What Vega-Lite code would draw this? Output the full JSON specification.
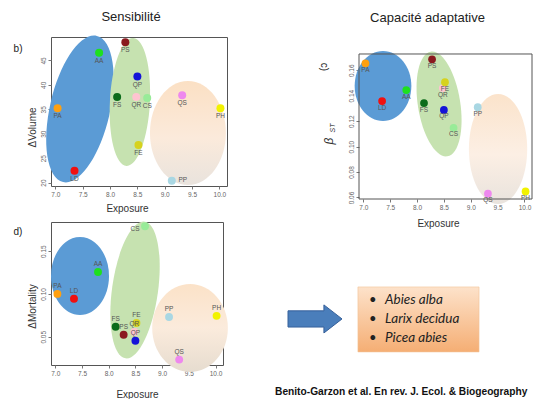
{
  "$schema": "https://vega.github.io/schema/vega-lite/v6.json",
  "background": "white",
  "padding": {"left": 13, "top": 10, "right": 0, "bottom": 0},
  "datasets": {
    "species": [
      {"sp": "AA", "exposure": 7.80, "volume": 46.6, "pst": 0.1444, "mortality": 0.1256},
      {"sp": "LD", "exposure": 7.35, "volume": 22.4, "pst": 0.1358, "mortality": 0.0944},
      {"sp": "PA", "exposure": 7.04, "volume": 35.2, "pst": 0.1655, "mortality": 0.100},
      {"sp": "PS", "exposure": 8.28, "volume": 48.7, "pst": 0.1686, "mortality": 0.0523},
      {"sp": "QR", "exposure": 8.48, "volume": 37.5, "pst": 0.146, "mortality": 0.0555},
      {"sp": "QP", "exposure": 8.50, "volume": 41.7, "pst": 0.1288, "mortality": 0.0453},
      {"sp": "FS", "exposure": 8.13, "volume": 37.5, "pst": 0.1342, "mortality": 0.0616},
      {"sp": "CS", "exposure": 8.68, "volume": 37.3, "pst": 0.1147, "mortality": 0.179},
      {"sp": "QS", "exposure": 9.32, "volume": 37.9, "pst": 0.063, "mortality": 0.0233},
      {"sp": "PH", "exposure": 10.02, "volume": 35.2, "pst": 0.0647, "mortality": 0.0744},
      {"sp": "FE", "exposure": 8.52, "volume": 27.7, "pst": 0.1506, "mortality": 0.066},
      {"sp": "PP", "exposure": 9.13, "volume": 20.4, "pst": 0.131, "mortality": 0.073}
    ]
  },
  "config": {
    "font": "Liberation Sans",
    "view": {"stroke": "#555", "strokeWidth": 1},
    "axis": {"domain": false, "grid": false, "tickColor": "#777", "tickSize": 3, "tickCount": 20, "labelFontSize": 6.5, "labelColor": "#666", "labelPadding": 2, "labelOverlap": false, "titleFontSize": 10, "titleFontWeight": "normal", "titleColor": "#333", "titlePadding": 3},
    "title": {"fontSize": 13, "fontWeight": "normal", "color": "#222", "font": "Liberation Sans"},
    "text": {"font": "Liberation Sans"}
  },
  "spacing": 46,
  "hconcat": [
    {
      "spacing": 7,
      "vconcat": [
        {
          "width": 176,
          "height": 149,
          "title": {"text": "Sensibilité", "offset": 12, "frame": "group", "dx": -8},
          "layer": [
            {"data": {"values": [{}]}, "mark": {"type": "point", "filled": true, "opacity": 1, "fill": "#5b9bd5", "strokeWidth": 0, "angle": 13, "size": 22500, "shape": "M 0.4 0 C 0.4 0.5523 0.2209 1 0 1 C -0.2209 1 -0.4 0.5523 -0.4 0 C -0.4 -0.5523 -0.2209 -1 0 -1 C 0.2209 -1 0.4 -0.5523 0.4 0 Z"},
             "encoding": {"x": {"datum": 7.45}, "y": {"datum": 35.06}}},
            {"data": {"values": [{}]}, "mark": {"type": "point", "filled": true, "opacity": 1, "fill": "#c6e2b0", "strokeWidth": 0, "angle": 3, "size": 16384, "shape": "M 0.3125 0 C 0.3125 0.5523 0.1726 1 0 1 C -0.1726 1 -0.3125 0.5523 -0.3125 0 C -0.3125 -0.5523 -0.1726 -1 0 -1 C 0.1726 -1 0.3125 -0.5523 0.3125 0 Z"},
             "encoding": {"x": {"datum": 8.364}, "y": {"datum": 36.5}}},
            {"data": {"values": [{}]}, "mark": {"type": "point", "filled": true, "opacity": 1, "strokeWidth": 0, "size": 10816, "shape": "M 0.73 0 C 0.73 0.5523 0.4032 1 0 1 C -0.4032 1 -0.73 0.5523 -0.73 0 C -0.73 -0.5523 -0.4032 -1 0 -1 C 0.4032 -1 0.73 -0.5523 0.73 0 Z",
               "fill": {"gradient": "linear", "x1": 0, "y1": 0, "x2": 0, "y2": 1, "stops": [{"offset": 0, "color": "#fbe0c4"}, {"offset": 0.55, "color": "#fbeadb"}, {"offset": 1, "color": "#e9e3dd"}]}},
             "encoding": {"x": {"datum": 9.425}, "y": {"datum": 30.15}}},
            {"data": {"name": "species"}, "mark": {"type": "circle", "size": 64, "opacity": 1},
             "encoding": {
               "x": {"field": "exposure", "type": "quantitative", "scale": {"domain": [6.92, 10.14], "nice": false, "zero": false}, "axis": {"title": "Exposure", "values": [7, 7.5, 8, 8.5, 9, 9.5, 10], "tickCount": 20, "format": ".1f", "labelOverlap": false, "titleX": 76, "titleAlign": "center", "titlePadding": 6}},
               "y": {"field": "volume", "type": "quantitative", "scale": {"domain": [19.3, 49.8], "nice": false, "zero": false}, "axis": {"title": "ΔVolume", "values": [20, 25, 30, 35, 40, 45], "tickCount": 20, "labelAngle": -90, "labelOverlap": false, "titleY": 90, "titleAlign": "center"}},
               "color": {"field": "sp", "type": "nominal", "legend": null, "scale": {"domain": ["AA", "LD", "PA", "PS", "QP", "FS", "QR", "CS", "QS", "PH", "FE", "PP"], "range": ["#1ee01e", "#f01010", "#ffa010", "#8a1a1f", "#1414d8", "#0b6b1a", "#ffc4d0", "#98eb98", "#ee88ee", "#f2f200", "#d6d21e", "#a9d7e3"]}}
             }},
            {"data": {"name": "species"}, "transform": [{"filter": "datum.sp !== 'PP'"}], "mark": {"type": "text", "fontSize": 6.5, "color": "#555", "dy": 8, "baseline": "middle"},
             "encoding": {"x": {"field": "exposure", "type": "quantitative"}, "y": {"field": "volume", "type": "quantitative"}, "text": {"field": "sp"}}},
            {"data": {"name": "species"}, "transform": [{"filter": "datum.sp === 'PP'"}], "mark": {"type": "text", "fontSize": 6.5, "color": "#555", "dx": 11, "dy": -1, "baseline": "middle"},
             "encoding": {"x": {"field": "exposure", "type": "quantitative"}, "y": {"field": "volume", "type": "quantitative"}, "text": {"field": "sp"}}},
            {"data": {"values": [{}]}, "mark": {"type": "text", "text": "b)", "fontSize": 10, "color": "#222"},
             "encoding": {"x": {"datum": 6.317}, "y": {"datum": 47.34}}}
          ]
        },
        {
          "width": 172,
          "height": 143,
          "layer": [
            {"data": {"values": [{}]}, "mark": {"type": "point", "filled": true, "opacity": 1, "fill": "#5b9bd5", "strokeWidth": 0, "size": 6084, "shape": "M 0.744 0 C 0.744 0.5523 0.4109 1 0 1 C -0.4109 1 -0.744 0.5523 -0.744 0 C -0.744 -0.5523 -0.4109 -1 0 -1 C 0.4109 -1 0.744 -0.5523 0.744 0 Z"},
             "encoding": {"x": {"datum": 7.463}, "y": {"datum": 0.1209}}},
            {"data": {"values": [{}]}, "mark": {"type": "point", "filled": true, "opacity": 1, "fill": "#c6e2b0", "strokeWidth": 0, "angle": 8, "size": 19044, "shape": "M 0.333 0 C 0.333 0.5523 0.1839 1 0 1 C -0.1839 1 -0.333 0.5523 -0.333 0 C -0.333 -0.5523 -0.1839 -1 0 -1 C 0.1839 -1 0.333 -0.5523 0.333 0 Z"},
             "encoding": {"x": {"datum": 8.493}, "y": {"datum": 0.1046}}},
            {"data": {"values": [{}]}, "mark": {"type": "point", "filled": true, "opacity": 1, "strokeWidth": 0, "size": 7744, "shape": "M 0.86 0 C 0.86 0.5523 0.475 1 0 1 C -0.475 1 -0.86 0.5523 -0.86 0 C -0.86 -0.5523 -0.475 -1 0 -1 C 0.475 -1 0.86 -0.5523 0.86 0 Z",
               "fill": {"gradient": "linear", "x1": 0, "y1": 0, "x2": 0, "y2": 1, "stops": [{"offset": 0, "color": "#fbe2c8"}, {"offset": 0.5, "color": "#fbebdc"}, {"offset": 1, "color": "#e6dccf"}]}},
             "encoding": {"x": {"datum": 9.523}, "y": {"datum": 0.0602}}},
            {"data": {"name": "species"}, "mark": {"type": "circle", "size": 62, "opacity": 1},
             "encoding": {
               "x": {"field": "exposure", "type": "quantitative", "scale": {"domain": [6.92, 10.14], "nice": false, "zero": false}, "axis": {"title": "Exposure", "values": [7, 7.5, 8, 8.5, 9, 9.5, 10], "tickCount": 20, "format": ".1f", "labelOverlap": false, "titlePadding": 13}},
               "y": {"field": "mortality", "type": "quantitative", "scale": {"domain": [0.017, 0.184], "nice": false, "zero": false}, "axis": {"title": "ΔMortality", "values": [0.05, 0.10, 0.15], "tickCount": 20, "format": ".2f", "labelAngle": -90, "labelOverlap": false, "titleY": 84, "titleAlign": "center"}},
               "color": {"field": "sp", "type": "nominal", "legend": null, "scale": {"domain": ["AA", "LD", "PA", "PS", "QP", "FS", "QR", "CS", "QS", "PH", "FE", "PP"], "range": ["#1ee01e", "#f01010", "#ffa010", "#8a1a1f", "#1414d8", "#0b6b1a", "#ffc4d0", "#98eb98", "#ee88ee", "#f2f200", "#d6d21e", "#a9d7e3"]}}
             }},
            {"data": {"name": "species"}, "transform": [{"filter": "datum.sp !== 'CS'"}], "mark": {"type": "text", "fontSize": 6.5, "color": "#555", "dy": -8, "baseline": "middle"},
             "encoding": {"x": {"field": "exposure", "type": "quantitative"}, "y": {"field": "mortality", "type": "quantitative"}, "text": {"field": "sp"}}},
            {"data": {"name": "species"}, "transform": [{"filter": "datum.sp === 'CS'"}], "mark": {"type": "text", "fontSize": 6.5, "color": "#555", "dx": -10, "dy": 3, "baseline": "middle"},
             "encoding": {"x": {"field": "exposure", "type": "quantitative"}, "y": {"field": "mortality", "type": "quantitative"}, "text": {"field": "sp"}}},
            {"data": {"values": [{}]}, "mark": {"type": "text", "text": "d)", "fontSize": 10, "color": "#222"},
             "encoding": {"x": {"datum": 6.302}, "y": {"datum": 0.1723}}}
          ]
        }
      ]
    },
    {
      "spacing": 1,
      "vconcat": [
        {
          "width": 173,
          "height": 162,
          "view": {"stroke": null},
          "title": {"text": "Capacité adaptative", "offset": 12, "frame": "group", "dx": -18},
          "layer": [
            {"data": {"values": [{}]}, "mark": {"type": "point", "filled": true, "opacity": 1, "fill": "#5b9bd5", "strokeWidth": 0, "size": 4900, "shape": "M 0.81 0 C 0.81 0.5523 0.4474 1 0 1 C -0.4474 1 -0.81 0.5523 -0.81 0 C -0.81 -0.5523 -0.4474 -1 0 -1 C 0.4474 -1 0.81 -0.5523 0.81 0 Z"},
             "encoding": {"x": {"datum": 7.367}, "y": {"datum": 0.1476}}},
            {"data": {"values": [{}]}, "mark": {"type": "point", "filled": true, "opacity": 1, "fill": "#c6e2b0", "strokeWidth": 0, "angle": -9, "size": 11236, "shape": "M 0.4 0 C 0.4 0.5523 0.2209 1 0 1 C -0.2209 1 -0.4 0.5523 -0.4 0 C -0.4 -0.5523 -0.2209 -1 0 -1 C 0.2209 -1 0.4 -0.5523 0.4 0 Z"},
             "encoding": {"x": {"datum": 8.41}, "y": {"datum": 0.1335}}},
            {"data": {"values": [{}]}, "mark": {"type": "point", "filled": true, "opacity": 1, "strokeWidth": 0, "size": 12100, "shape": "M 0.53 0 C 0.53 0.5523 0.2927 1 0 1 C -0.2927 1 -0.53 0.5523 -0.53 0 C -0.53 -0.5523 -0.2927 -1 0 -1 C 0.2927 -1 0.53 -0.5523 0.53 0 Z",
               "fill": {"gradient": "linear", "x1": 0, "y1": 0, "x2": 0, "y2": 1, "stops": [{"offset": 0, "color": "#fbe3cb"}, {"offset": 0.55, "color": "#fcefe4"}, {"offset": 1, "color": "#e9e3dd"}]}},
             "encoding": {"x": {"datum": 9.508}, "y": {"datum": 0.0981}}},
            {"data": {"values": [{}]}, "mark": {"type": "rect", "filled": false, "stroke": "#555", "strokeWidth": 1},
             "encoding": {"x": {"datum": 6.92}, "x2": {"datum": 10.14}, "y": {"datum": 0.0588}, "y2": {"datum": 0.1728}}},
            {"data": {"name": "species"}, "mark": {"type": "circle", "size": 60, "opacity": 1},
             "encoding": {
               "x": {"field": "exposure", "type": "quantitative", "scale": {"domain": [6.92, 10.14], "nice": false, "zero": false}, "axis": {"title": "Exposure", "values": [7, 7.5, 8, 8.5, 9, 9.5, 10], "tickCount": 20, "format": ".1f", "labelOverlap": false, "titleX": 79, "titleAlign": "center", "titlePadding": 8}},
               "y": {"field": "pst", "type": "quantitative", "scale": {"domain": [0.0588, 0.18616], "nice": false, "zero": false}, "axis": {"title": null, "values": [0.06, 0.08, 0.10, 0.12, 0.14, 0.16], "tickCount": 20, "format": ".2f", "labelAngle": -90, "labelOverlap": false}},
               "color": {"field": "sp", "type": "nominal", "legend": null, "scale": {"domain": ["AA", "LD", "PA", "PS", "QP", "FS", "QR", "CS", "QS", "PH", "FE", "PP"], "range": ["#1ee01e", "#f01010", "#ffa010", "#8a1a1f", "#1414d8", "#0b6b1a", "#ffc4d0", "#98eb98", "#ee88ee", "#f2f200", "#d6d21e", "#a9d7e3"]}}
             }},
            {"data": {"name": "species"}, "mark": {"type": "text", "fontSize": 6.5, "color": "#555", "dy": 6.5, "baseline": "middle"},
             "encoding": {"x": {"field": "exposure", "type": "quantitative"}, "y": {"field": "pst", "type": "quantitative"}, "text": {"field": "sp"}}},
            {"data": {"values": [{}]}, "mark": {"type": "text", "text": "c)", "fontSize": 10, "color": "#222", "angle": 90},
             "encoding": {"x": {"datum": 6.268}, "y": {"datum": 0.1626}}},
            {"data": {"values": [{}]}, "mark": {"type": "text", "text": "β", "fontSize": 12, "fontStyle": "italic", "color": "#333", "angle": 270},
             "encoding": {"x": {"datum": 6.361}, "y": {"datum": 0.1044}}},
            {"data": {"values": [{}]}, "mark": {"type": "text", "text": "ST", "fontSize": 7, "fontStyle": "italic", "color": "#333", "angle": 270},
             "encoding": {"x": {"datum": 6.436}, "y": {"datum": 0.1146}}}
          ]
        },
        {
          "width": 176,
          "height": 165,
          "view": {"stroke": null, "fill": "white"},
          "layer": [
            {"data": {"values": [{}]}, "mark": {"type": "point", "filled": true, "opacity": 1, "fill": "#4a7ebb", "stroke": "#36609a", "strokeWidth": 1, "size": 2916, "shape": "M -1 -0.3 L 0.33 -0.3 L 0.33 -0.52 L 1 0 L 0.33 0.52 L 0.33 0.3 L -1 0.3 Z"},
             "encoding": {"x": {"datum": -25, "scale": {"domain": [0, 100], "nice": false, "zero": false}, "axis": null}, "y": {"datum": 53.9, "scale": {"domain": [0, 100], "reverse": true, "nice": false, "zero": false}, "axis": null}}},
            {"data": {"values": [{}]}, "mark": {"type": "rect", "stroke": "#f2c497", "strokeWidth": 0.6,
               "fill": {"gradient": "linear", "x1": 0, "y1": 0, "x2": 0, "y2": 1, "stops": [{"offset": 0, "color": "#fde2ca"}, {"offset": 1, "color": "#f5ae74"}]}},
             "encoding": {"x": {"datum": -0.6}, "x2": {"datum": 68.2}, "y": {"datum": 34.5}, "y2": {"datum": 73.9}}},
            {"data": {"values": [{}]}, "mark": {"type": "text", "text": ["•", "•", "•"], "font": "Lato", "fontSize": 13, "lineHeight": 19, "align": "left", "baseline": "middle", "color": "#222"},
             "encoding": {"x": {"datum": 5.7}, "y": {"datum": 42.4}}},
            {"data": {"values": [{}]}, "mark": {"type": "text", "text": ["Abies alba", "Larix decidua", "Picea abies"], "font": "Lato", "fontStyle": "italic", "fontSize": 13.5, "lineHeight": 19, "align": "left", "baseline": "middle", "color": "#222"},
             "encoding": {"x": {"datum": 14.8}, "y": {"datum": 42.4}}},
            {"data": {"values": [{}]}, "mark": {"type": "text", "text": "Benito-Garzon et al. En rev. J. Ecol. & Biogeography", "fontSize": 10.2, "fontWeight": "bold", "align": "left", "baseline": "middle", "color": "#111", "limit": 259, "ellipsis": ""},
             "encoding": {"x": {"datum": -47.7}, "y": {"datum": 98.2}}}
          ]
        }
      ]
    }
  ]
}
